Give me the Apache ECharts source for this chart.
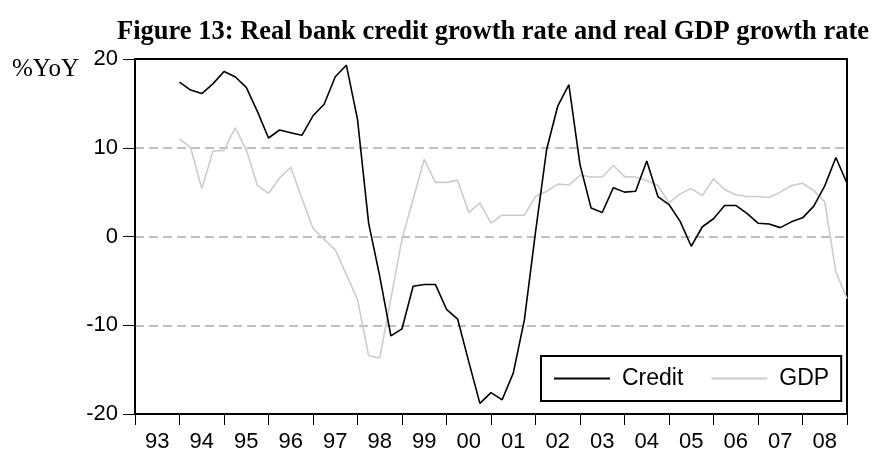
<!DOCTYPE html>
<html>
<head>
<meta charset="utf-8">
<script src="https://cdn.jsdelivr.net/npm/echarts@6/dist/echarts.min.js"></script>
<style>
html,body{margin:0;padding:0;background:#fff;}
#chart{width:878px;height:451px;}
</style>
</head>
<body>
<div id="chart"></div>
<script>
// year labels shown under the axis
var years = ['93','94','95','96','97','98','99','00','01','02','03','04','05','06','07','08'];

// quarterly positions, 1993Q1 .. 2009Q1 (points sit on the quarter marks)
var quarters = [];
for (var y = 1993; y <= 2008; y++) {
	for (var q = 1; q <= 4; q++) quarters.push(y + 'Q' + q);
}
quarters.push('2009Q1');

// series start at 1994Q1
var startIndex = 4;

var credit = [17.4,16.5,16.1,17.2, 18.6,18.0,16.8,14.1, 11.1,12.0,11.7,11.4,
	13.6,14.9,18.0,19.3, 13.2,1.5,-4.5,-11.2, -10.4,-5.6,-5.4,-5.4,
	-8.2,-9.3,-14.1,-18.8, -17.6,-18.4,-15.4,-9.4, 0.5,9.8,14.7,17.1,
	8.1,3.2,2.7,5.5, 5.0,5.1,8.5,4.5, 3.6,1.7,-1.1,1.1,
	2.0,3.5,3.5,2.6, 1.5,1.4,1.0,1.65, 2.1,3.4,5.7,8.9, 6.0];

var gdp = [11.0,10.0,5.4,9.6, 9.7,12.25,9.8,5.75, 4.85,6.6,7.8,4.3,
	0.9,-0.3,-1.5,-4.3, -7.1,-13.4,-13.7,-7.0, -0.3,4.2,8.7,6.1,
	6.1,6.35,2.7,3.8, 1.5,2.4,2.4,2.4, 4.5,5.1,5.9,5.8,
	6.9,6.7,6.7,8.0, 6.75,6.7,6.3,5.75, 3.8,4.8,5.4,4.6,
	6.5,5.3,4.7,4.5, 4.5,4.4,5.0,5.75, 6.0,5.2,3.9,-4.0, -7.0];

function pad(arr){
	var out = [];
	for (var i = 0; i < startIndex; i++) out.push(null);
	return out.concat(arr);
}

var myChart = echarts.init(document.getElementById('chart'));

var option = {
	backgroundColor: '#fff',
	animation: false,
	title: {
		text: 'Figure 13: Real bank credit growth rate and real GDP growth rate',
		left: 117,
		top: 19,
		padding: 0,
		textStyle: {
			fontFamily: 'Liberation Serif',
			fontWeight: 'bold',
			fontSize: 26.5,
			color: '#000'
		}
	},
	graphic: [{
		type: 'text',
		left: 12,
		top: 57,
		style: {
			text: '%YoY',
			font: '25px "Liberation Serif"',
			fill: '#000'
		}
	}],
	legend: {
		left: 541,
		top: 356,
		width: 300,
		height: 44,
		padding: [11, 12, 11, 13],
		orient: 'horizontal',
		icon: 'rect',
		itemWidth: 56,
		itemHeight: 2,
		itemGap: 28,
		borderColor: '#000',
		borderWidth: 2,
		backgroundColor: '#fff',
		textStyle: {
			fontFamily: 'Liberation Sans',
			fontSize: 23,
			color: '#000',
			padding: [0, 0, 0, 7]
		},
		data: ['Credit', 'GDP']
	},
	grid: {
		left: 135,
		right: 31,
		top: 59,
		bottom: 37,
		outerBoundsMode: 'none',
		show: true,
		borderColor: '#000',
		borderWidth: 2,
		backgroundColor: 'transparent'
	},
	xAxis: [{
		type: 'category',
		data: quarters,
		boundaryGap: false,
		axisLine: { show: false },
		axisTick: { show: false },
		axisLabel: { show: false },
		splitLine: { show: false }
	}, {
		type: 'category',
		data: years,
		position: 'bottom',
		boundaryGap: true,
		axisLine: { show: true, lineStyle: { color: '#000', width: 2 } },
		axisTick: { show: true, length: 11, inside: false, lineStyle: { color: '#000', width: 1 } },
		axisLabel: {
			interval: 0,
			margin: 17,
			fontFamily: 'Liberation Sans',
			fontSize: 22,
			color: '#000'
		},
		splitLine: { show: false }
	}, {
		// solid frame line along the top, drawn over the 20 grid line
		type: 'category',
		data: years,
		position: 'top',
		z: 10,
		axisLine: { show: true, lineStyle: { color: '#000', width: 2 } },
		axisTick: { show: false },
		axisLabel: { show: false },
		splitLine: { show: false }
	}],
	yAxis: {
		type: 'value',
		min: -20,
		max: 20,
		interval: 10,
		axisLine: { show: true, lineStyle: { color: '#000', width: 2 } },
		axisTick: { show: true, length: 12, lineStyle: { color: '#000', width: 1 } },
		axisLabel: {
			margin: 17,
			fontFamily: 'Liberation Sans',
			fontSize: 22,
			color: '#000',
			padding: [0, 0, 8, 0]
		},
		splitLine: {
			show: true,
			lineStyle: { color: '#aaa', type: [9, 5], width: 1.5 }
		}
	},
	series: [{
		name: 'GDP',
		type: 'line',
		xAxisIndex: 0,
		data: pad(gdp),
		symbol: 'none',
		lineStyle: { color: '#cccccc', width: 1.6 },
		itemStyle: { color: '#cccccc' },
		z: 2
	}, {
		name: 'Credit',
		type: 'line',
		xAxisIndex: 0,
		data: pad(credit),
		symbol: 'none',
		lineStyle: { color: '#000', width: 1.6 },
		itemStyle: { color: '#000' },
		z: 3
	}]
};

myChart.setOption(option);
</script>
</body>
</html>
